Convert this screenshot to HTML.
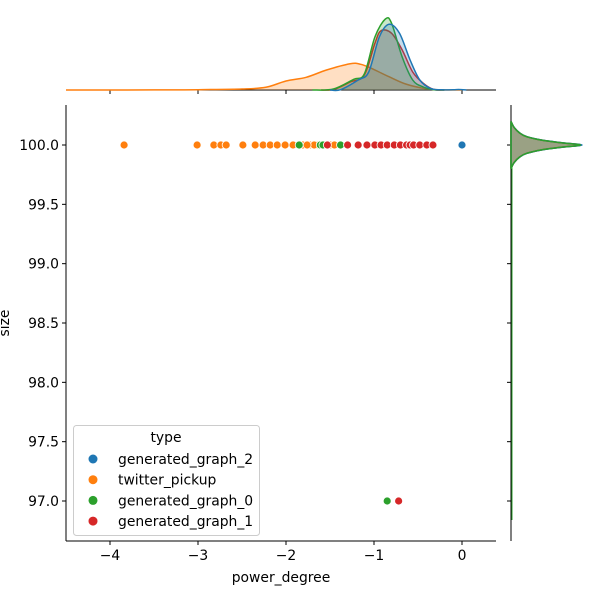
<!DOCTYPE html>
<html><head><meta charset="utf-8"><style>
body{margin:0;background:#fff}
svg text{font-family:"DejaVu Sans","Liberation Sans",sans-serif;font-size:13.9px;fill:#000}
</style></head><body>
<svg id="c" width="600" height="600" viewBox="0 0 600 600" xmlns="http://www.w3.org/2000/svg">
<g id="g"></g>
</svg>
<script>
// scatter data (power_degree values per category) at size 100 / 97
const orangeX=[-3.84,-3.01,-2.82,-2.74,-2.68,-2.49,-2.35,-2.26,-2.18,-2.10,-2.01,-1.92,-1.81,-1.73,-1.65,-1.58,-1.50,-1.39,-1.30,-1.45,-1.68,-1.76];
const orangeY=orangeX.map(()=>100);
const greenX=[-1.85,-1.61,-1.58,-1.38,-1.30,-0.85];
const greenY=[100,100,100,100,100,97];
const redX=[-1.53,-1.30,-1.18,-1.08,-0.99,-0.92,-0.85,-0.77,-0.70,-0.63,-0.59,-0.55,-0.48,-0.40,-0.33,-0.72];
const redY=[100,100,100,100,100,100,100,100,100,100,100,100,100,100,100,97];
const blueX=[0.0];
const blueY=[100];
// top marginal KDE samples (x, density px height)
const kdeOrangeX=[-4.5,-3.5,-3.0,-2.5,-2.23,-2.0,-1.77,-1.54,-1.27,-1.15,-1.03,-0.83,-0.64,-0.44,-0.28,0.0];
const kdeOrangeH=[0,0.1,0.3,1,2.7,9,12.7,20,26.3,25.7,21.7,13.3,6,1.7,0.3,0];
const kdeRedX=[-1.6,-1.46,-1.27,-1.11,-0.99,-0.92,-0.80,-0.68,-0.56,-0.44,-0.32,-0.2];
const kdeRedH=[0,0.5,8,15,46.7,59.3,56.7,40,18,6.7,0.5,0];
const kdeGreenX=[-1.7,-1.46,-1.23,-1.11,-0.99,-0.87,-0.80,-0.68,-0.56,-0.44,-0.32,-0.2];
const kdeGreenH=[0,1,10.7,16,53,71,66.7,33,10,3,0.3,0];
const kdeBlueX=[-1.5,-1.38,-1.18,-1.06,-0.94,-0.83,-0.71,-0.59,-0.48,-0.36,-0.24,-0.1,-0.04,0.05];
const kdeBlueH=[0,0.3,10,18,53,65.7,56.7,30,10,1.7,0.2,0.3,0.5,0];
// right marginal KDE (size value, density px width)
const kdeRightY=[99.8,99.85,99.9,99.93,99.96,99.98,100,100.02,100.04,100.07,100.1,100.15,100.2];
const kdeRightW=[0,3,9,16,32,50,71,50,32,16,9,3,0];
const xTicks=[-4,-3,-2,-1,0];
const yTicks=[97.0,97.5,98.0,98.5,99.0,99.5,100.0];

const NS="http://www.w3.org/2000/svg";
const g=document.getElementById('g');
const X=v=>462+v*88;
const Y=v=>145+(100-v)*118.67;
function el(t,a,p){const e=document.createElementNS(NS,t);for(const k in a)e.setAttribute(k,a[k]);(p||g).appendChild(e);return e;}
const C={b:'#1f77b4',o:'#ff7f0e',g:'#2ca02c',r:'#d62728'};
// smooth path through points (catmull-rom)
function smooth(P){
  let d='M'+P[0][0].toFixed(1)+','+P[0][1].toFixed(1);
  for(let i=0;i<P.length-1;i++){
    const p0=P[Math.max(0,i-1)],p1=P[i],p2=P[i+1],p3=P[Math.min(P.length-1,i+2)];
    const c1=[p1[0]+(p2[0]-p0[0])/6,p1[1]+(p2[1]-p0[1])/6];
    const c2=[p2[0]-(p3[0]-p1[0])/6,p2[1]-(p3[1]-p1[1])/6];
    d+='C'+c1.map(v=>v.toFixed(1)).join(',')+' '+c2.map(v=>v.toFixed(1)).join(',')+' '+p2.map(v=>v.toFixed(1)).join(',');
  }
  return d;
}

let s=el('line',{x1:66,y1:105,x2:66,y2:541,stroke:'#000','stroke-width':1});

s=el('line',{x1:66,y1:541,x2:496,y2:541,stroke:'#000','stroke-width':1});

xTicks.forEach(t=>{
  const l=el('line',{x1:X(t),y1:541,x2:X(t),y2:545,stroke:'#000'});
  
  const l2=el('line',{x1:X(t),y1:90,x2:X(t),y2:94,stroke:'#000'});
  
  const tx=el('text',{x:X(t),y:560,'text-anchor':'middle'});tx.textContent=(t<0?'\u2212'+(-t):t);
  
});
yTicks.forEach(t=>{
  const l=el('line',{x1:62,y1:Y(t),x2:66,y2:Y(t),stroke:'#000'});
  
  const l2=el('line',{x1:507,y1:Y(t),x2:511,y2:Y(t),stroke:'#000'});
  
  const tx=el('text',{x:59,y:Y(t)+5,'text-anchor':'end'});tx.textContent=t.toFixed(1);
  
});
let t=el('text',{x:281,y:582,'text-anchor':'middle'});t.textContent='power_degree';

t=el('text',{x:9,y:323,'text-anchor':'middle',transform:'rotate(-90 9 323)'});t.textContent='size';


s=el('line',{x1:66,y1:90,x2:496,y2:90,stroke:'#000'});

function topKde(xs,hs,c,n){
  const P=xs.map((x,i)=>[X(x),90-hs[i]]);
  const d=smooth(P);
  const f=el('path',{d:d+'L'+P[P.length-1][0]+',90L'+P[0][0]+',90Z',fill:c,'fill-opacity':0.25,stroke:'none'});
  
  const l=el('path',{d:d,fill:'none',stroke:c,'stroke-width':1.5,'stroke-linejoin':'round'});
  
}
topKde(kdeOrangeX,kdeOrangeH,C.o,'twitter-pickup');
topKde(kdeRedX,kdeRedH,C.r,'generated-graph-1');
topKde(kdeGreenX,kdeGreenH,C.g,'generated-graph-0');
topKde(kdeBlueX,kdeBlueH,C.b,'generated-graph-2');

s=el('line',{x1:511,y1:105,x2:511,y2:541,stroke:'#000'});

[[C.o,0.96],[C.r,0.99],[C.b,1.0],[C.g,0.98]].forEach(([c,k],j)=>{
  const P=kdeRightY.map((y,i)=>[511+kdeRightW[i]*k,Y(y)]);
  const f=el('path',{d:smooth(P)+'Z',fill:c,'fill-opacity':0.25,stroke:c,'stroke-width':1.5});
  
});
s=el('line',{x1:512,y1:165,x2:512,y2:520,stroke:C.g,'stroke-width':1});


function pts(xs,ys,c,n){xs.forEach((x,i)=>{
  const p=el('circle',{cx:X(x),cy:Y(ys[i]),r:4,fill:c,stroke:'#fff','stroke-width':0.8});
  
});}
pts(blueX,blueY,C.b,'generated-graph-2');
pts(orangeX,orangeY,C.o,'twitter-pickup');
pts(greenX,greenY,C.g,'generated-graph-0');
pts(redX,redY,C.r,'generated-graph-1');

const lg=el('g',{});
el('rect',{x:73.5,y:425.5,width:186,height:110,rx:3,fill:'#fff','fill-opacity':0.8,stroke:'#ccc'},lg);
t=el('text',{x:166,y:442,'text-anchor':'middle'},lg);t.textContent='type';

[['generated_graph_2',C.b],['twitter_pickup',C.o],['generated_graph_0',C.g],['generated_graph_1',C.r]].forEach(([n,c],i)=>{
  const y=459+i*20.7;
  const m=el('circle',{cx:93,cy:y,r:4.5,fill:c},lg);
  
  const tx=el('text',{x:118,y:y+5},lg);tx.textContent=n;
  
});
</script>
</body></html>
